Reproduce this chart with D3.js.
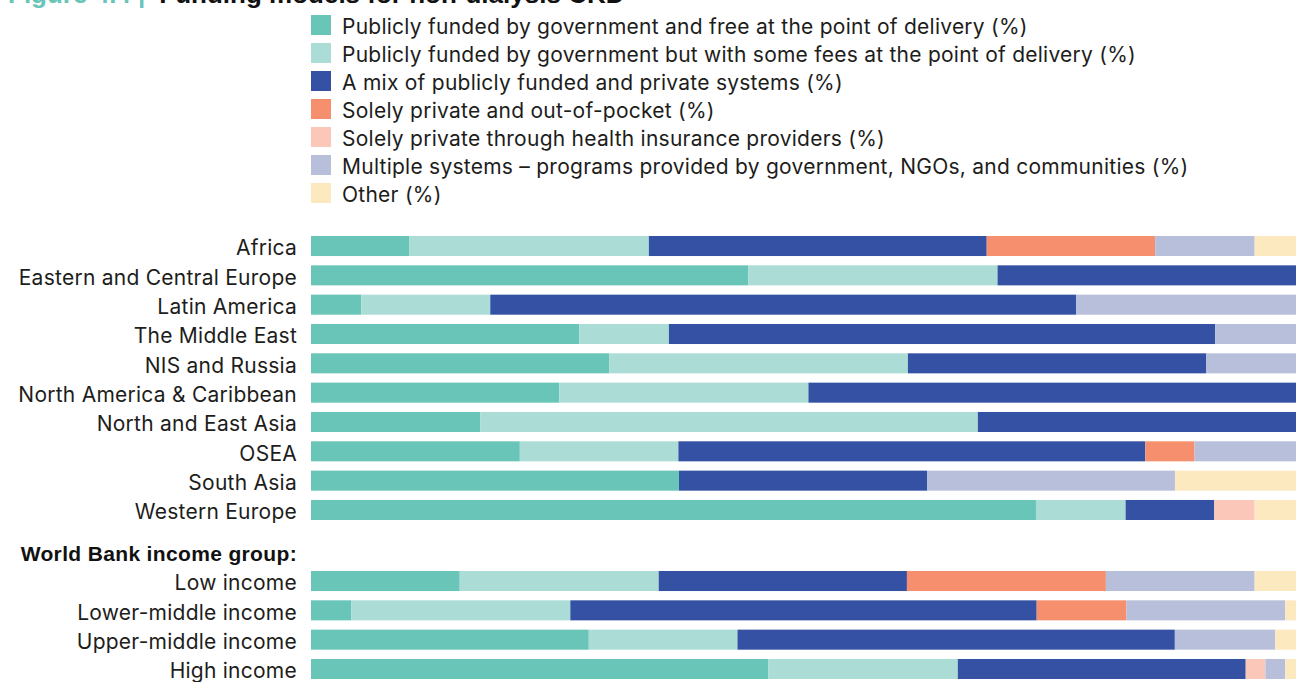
<!DOCTYPE html>
<html>
<head>
<meta charset="utf-8">
<script src="https://cdn.jsdelivr.net/npm/d3@7"></script>
<style>
  body { margin: 0; background: #fff; }
  svg { display: block; font-family: Inter, "Noto Sans", sans-serif; }
</style>
</head>
<body>
<svg id="chart"></svg>
<script>
const regions = ["Africa", "Eastern and Central Europe", "Latin America", "The Middle East", "NIS and Russia",
  "North America & Caribbean", "North and East Asia", "OSEA", "South Asia", "Western Europe"];
const incomeGroups = ["Low income", "Lower-middle income", "Upper-middle income", "High income"];

const seriesNames = [
  "Publicly funded by government and free at the point of delivery (%)",
  "Publicly funded by government but with some fees at the point of delivery (%)",
  "A mix of publicly funded and private systems (%)",
  "Solely private and out-of-pocket (%)",
  "Solely private through health insurance providers (%)",
  "Multiple systems \u2013 programs provided by government, NGOs, and communities (%)",
  "Other (%)"
];

// one value per row: 10 regions, then 4 income groups
const publicFree   = [10.0, 44.4, 5.1, 27.2, 30.3, 25.2, 17.2, 21.2, 37.4, 73.6, 15.1, 4.1, 28.2, 46.4];
const publicFees   = [24.3, 25.3, 13.1, 9.1, 30.3, 25.3, 50.5, 16.1, 0, 9.1, 20.2, 22.2, 15.1, 19.2];
const mixed        = [34.3, 30.3, 59.5, 55.4, 30.3, 49.5, 32.3, 47.4, 25.2, 9.0, 25.2, 47.3, 44.4, 29.2];
const outOfPocket  = [17.1, 0, 0, 0, 0, 0, 0, 5.0, 0, 0, 20.2, 9.1, 0, 0];
const insurance    = [0, 0, 0, 0, 0, 0, 0, 0, 0, 4.1, 0, 0, 0, 2.0];
const multiple     = [10.1, 0, 22.3, 8.2, 9.1, 0, 0, 10.3, 25.2, 0, 15.1, 16.1, 10.2, 2.0];
const other        = [4.2, 0, 0, 0, 0, 0, 0, 0, 12.3, 4.2, 4.2, 1.1, 2.1, 1.1];

const colors = ["#68c5b8", "#abddd6", "#3551a4", "#f68f6d", "#fbc7b9", "#b8bfdb", "#fde9c0"];

const width = 1296, height = 682;
const svg = d3.select("#chart").attr("width", width).attr("height", height);

const keys = ["publicFree", "publicFees", "mixed", "outOfPocket", "insurance", "multiple", "other"];
const columns = [publicFree, publicFees, mixed, outOfPocket, insurance, multiple, other];
const rows = regions.concat(incomeGroups).map((name, i) => {
  const r = { name };
  keys.forEach((k, j) => r[k] = columns[j][i]);
  return r;
});

const color = d3.scaleOrdinal().domain(keys).range(colors);
const stacked = d3.stack().keys(keys).offset(d3.stackOffsetExpand)(rows);

const x = d3.scaleLinear().domain([0, 1]).range([311, 1296]);
const yRegion = d3.scaleBand().domain(regions).range([236, 520]).paddingInner(0.317).paddingOuter(0);
const yIncome = d3.scaleBand().domain(incomeGroups).range([571, 679]).paddingInner(0.317).paddingOuter(0);
const y = name => regions.includes(name) ? yRegion(name) : yIncome(name);

// title (mostly cropped at the top, as in the source)
const title = svg.append("text").attr("x", 8).attr("y", 3)
  .attr("font-family", "'Liberation Sans', Arial, sans-serif")
  .attr("font-weight", "bold").attr("font-size", 26);
title.append("tspan").attr("fill", "#68c5b8").text("Figure 4.4 |");
title.append("tspan").attr("fill", "#111").attr("dx", 14).text("Funding models for non-dialysis CKD");

// legend
const legend = svg.append("g").attr("transform", "translate(311,15)");
const li = legend.selectAll("g").data(seriesNames).join("g")
  .attr("transform", (d, i) => `translate(0,${i * 28})`);
li.append("rect").attr("width", 20).attr("height", 20).attr("fill", (d, i) => colors[i]);
li.append("text").attr("x", 31).attr("y", 10).attr("dy", "0.45em")
  .attr("font-size", 21).attr("letter-spacing", 0.25)
  .attr("fill", "#1d1d1b").text(d => d);

// bars
svg.append("g").selectAll("g").data(stacked).join("g")
  .attr("fill", d => color(d.key))
  .selectAll("rect").data(d => d).join("rect")
  .attr("x", d => x(d[0]))
  .attr("y", d => y(d.data.name))
  .attr("width", d => x(d[1]) - x(d[0]))
  .attr("height", yRegion.bandwidth());

// row labels
svg.append("g").selectAll("text").data(rows).join("text")
  .attr("x", 297)
  .attr("y", d => y(d.name) + yRegion.bandwidth() / 2)
  .attr("dy", "0.45em")
  .attr("text-anchor", "end")
  .attr("font-size", 21)
  .attr("letter-spacing", 0.25)
  .attr("fill", "#1d1d1b")
  .text(d => d.name);

svg.append("text")
  .attr("x", 297).attr("y", 553).attr("dy", "0.36em")
  .attr("text-anchor", "end")
  .attr("font-family", "'Liberation Sans', Arial, sans-serif")
  .attr("font-weight", "bold").attr("font-size", 21)
  .attr("letter-spacing", 0.35)
  .attr("fill", "#111")
  .text("World Bank income group:");
</script>
</body>
</html>
